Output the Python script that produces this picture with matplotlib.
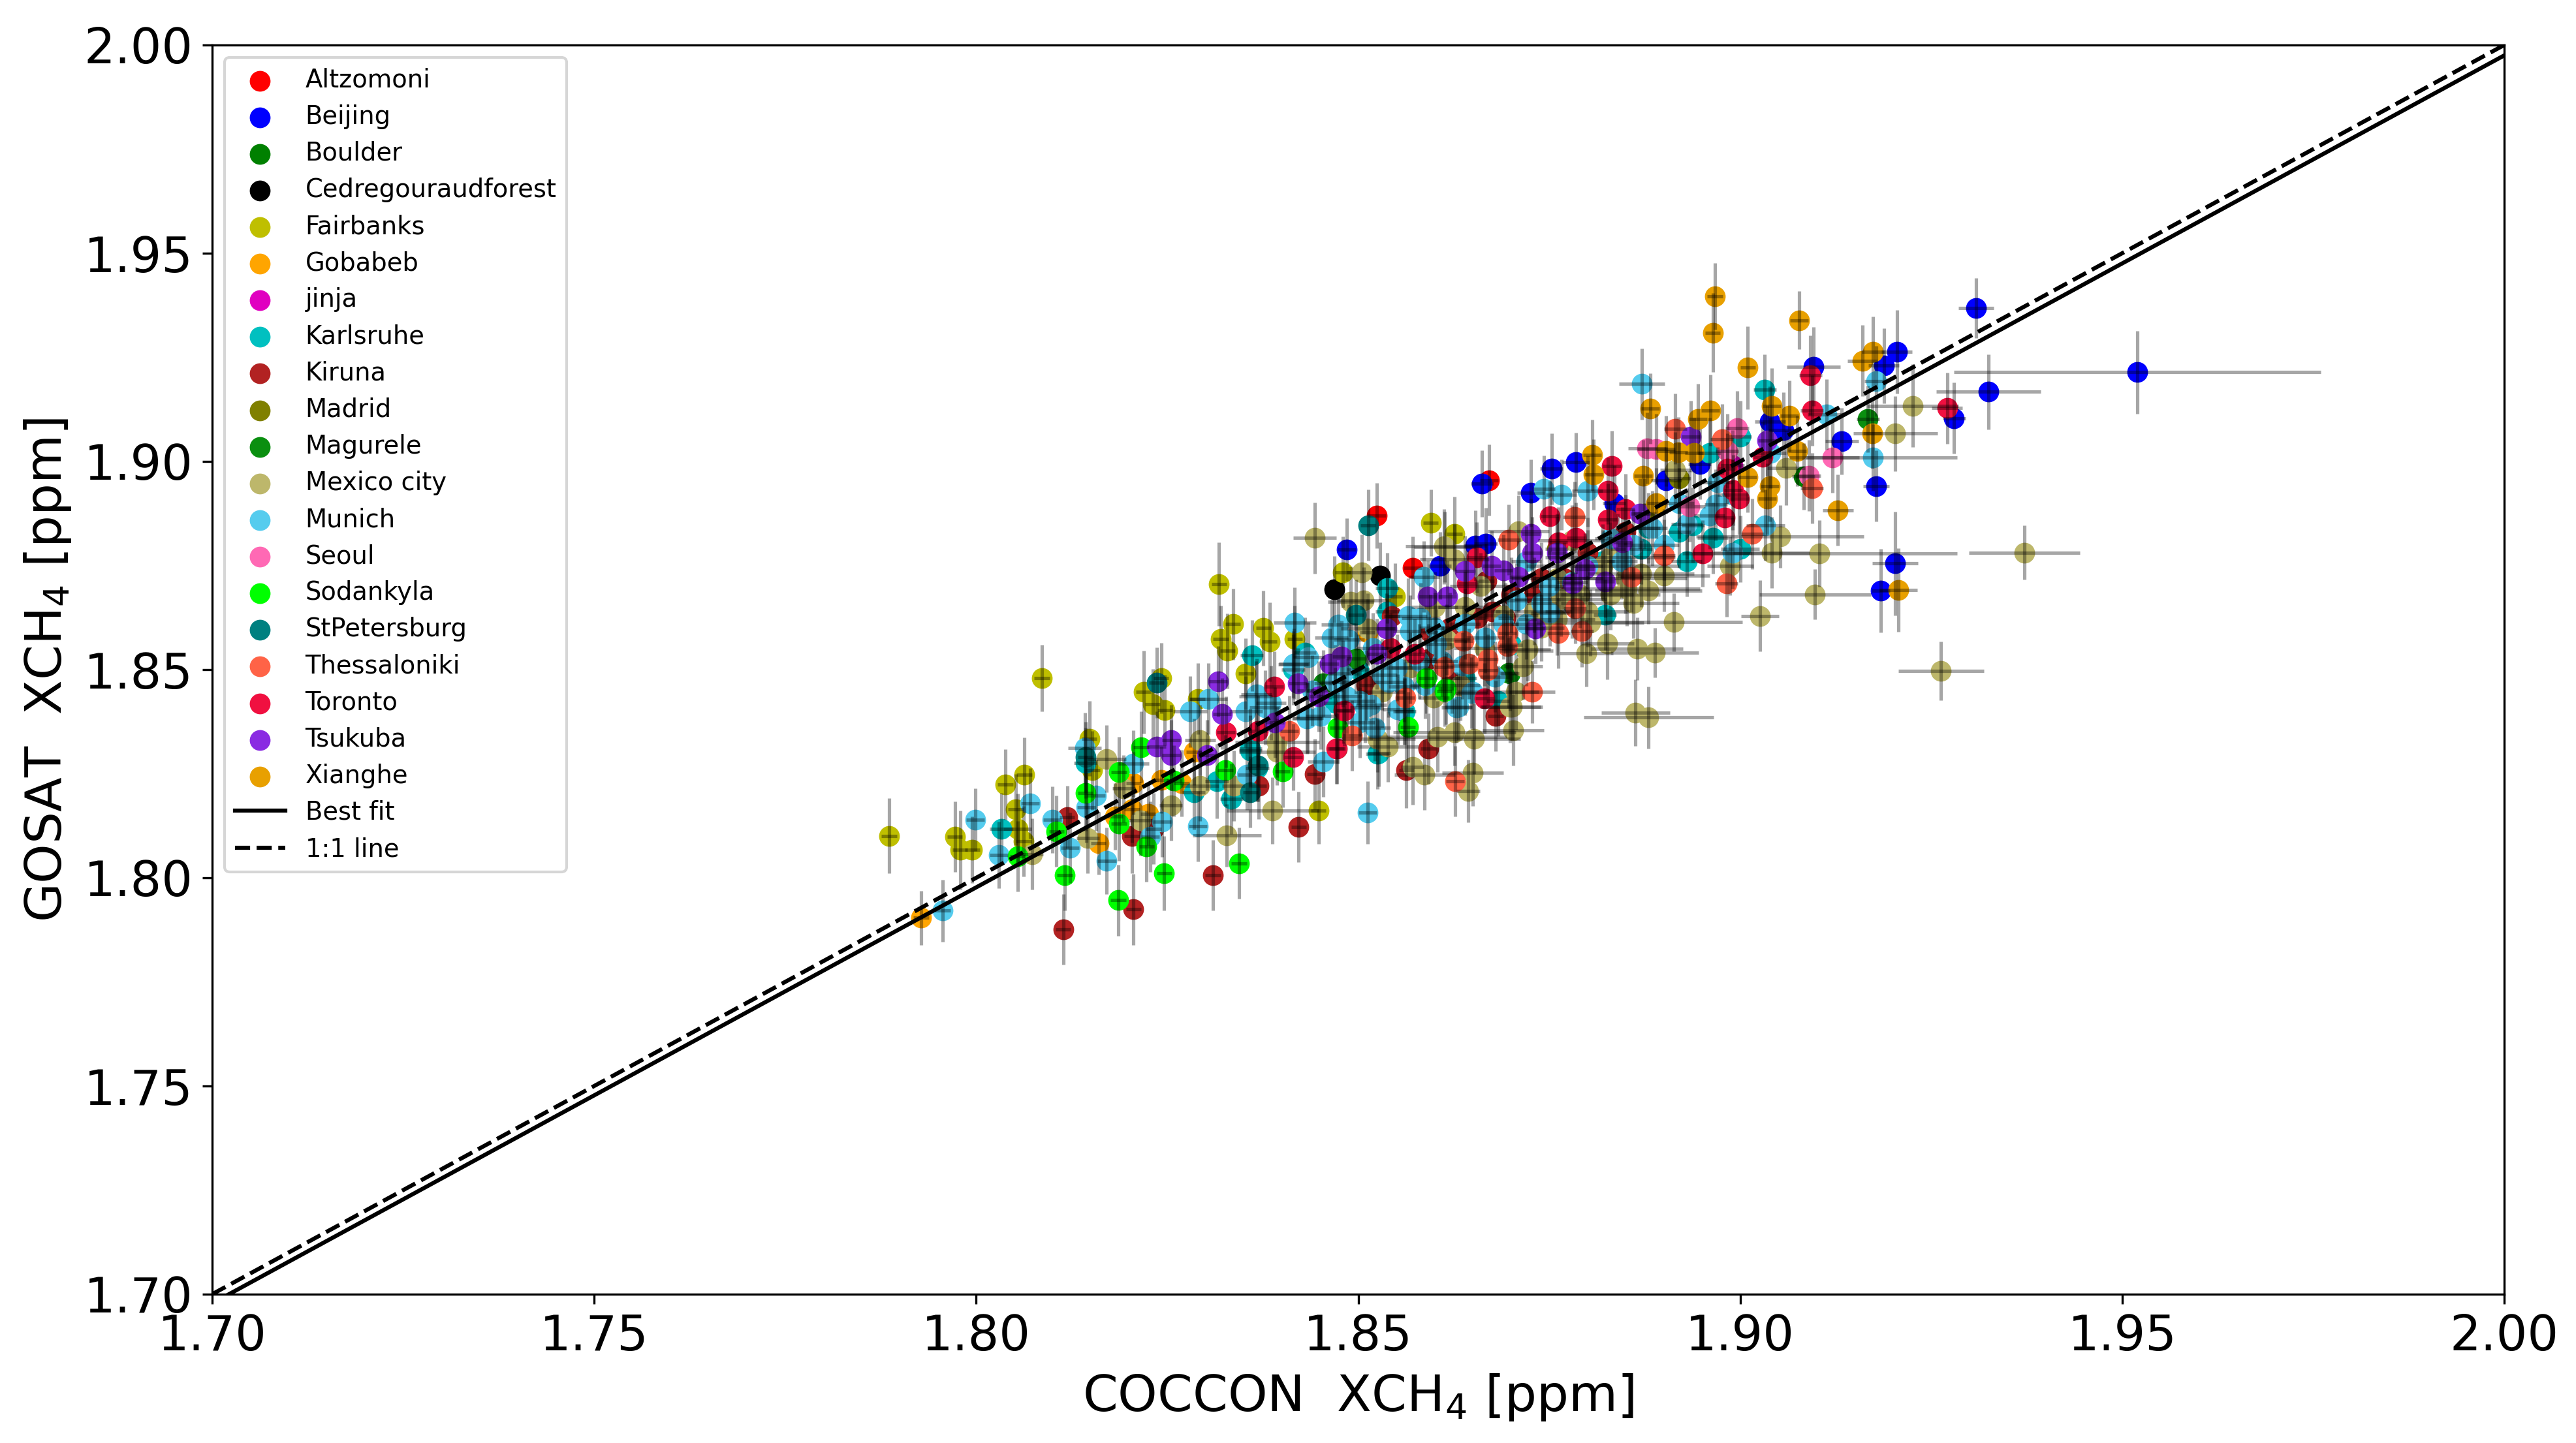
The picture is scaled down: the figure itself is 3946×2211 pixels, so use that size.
#  COCCON vs GOSAT XCH4 scatter, one list per site
#   rows are (x, y, xerr, yerr), all in ppm
import matplotlib
matplotlib.use('Agg')
import matplotlib.pyplot as plt

altzomoni = [(1.8524, 1.8870, .0012, .0078), (1.8671, 1.8955, .0012, .0085), (1.8571, 1.8744, .0012, .0075)]

beijing = [(1.9309, 1.9369, .0023, .0072), (1.9520, 1.9214, .0240, .0100), (1.9325, 1.9167, .0068, .0090),
           (1.9205, 1.9263, .0020, .0100), (1.9188, 1.9230, .0020, .0090), (1.9096, 1.9228, .0035, .0095),
           (1.9280, 1.9104, .0015, .0085), (1.9039, 1.9095, .0020, .0085), (1.9057, 1.9076, .0020, .0090),
           (1.9133, 1.9048, .0022, .0080), (1.9178, 1.8941, .0017, .0085), (1.9203, 1.8755, .0030, .0125),
           (1.9184, 1.8690, .0012, .0100), (1.8785, 1.8999, .0018, .0070), (1.8753, 1.8982, .0015, .0085),
           (1.8662, 1.8947, .0015, .0080), (1.8726, 1.8924, .0018, .0080), (1.8903, 1.8955, .0020, .0080),
           (1.8947, 1.8994, .0015, .0085), (1.8835, 1.8900, .0015, .0090), (1.8653, 1.8798, .0015, .0085),
           (1.8667, 1.8803, .0015, .0085), (1.8607, 1.8750, .0015, .0080), (1.8485, 1.8788, .0012, .0075),
           (1.8560, 1.8400, .0012, .0080)]

boulder = [(1.9083, 1.8964, .0015, .0080)]

cedre = [(1.8469, 1.8693, .0012, .0080), (1.8529, 1.8725, .0012, .0080)]

fairbanks = [(1.7886, 1.8101, .0010, .0090), (1.7972, 1.8099, .0010, .0085), (1.7979, 1.8067, .0010, .0095),
             (1.7995, 1.8067, .0010, .0080), (1.8038, 1.8224, .0010, .0085), (1.8063, 1.8247, .0010, .0090),
             (1.8052, 1.8164, .0010, .0085), (1.8054, 1.8117, .0018, .0085), (1.8062, 1.8088, .0010, .0085),
             (1.8148, 1.8334, .0010, .0090), (1.8152, 1.8258, .0010, .0095), (1.8448, 1.8161, .0010, .0080),
             (1.8086, 1.8480, .0010, .0080), (1.8318, 1.8705, .0010, .0100), (1.8336, 1.8609, .0010, .0085),
             (1.8320, 1.8574, .0010, .0080), (1.8329, 1.8545, .0010, .0090), (1.8376, 1.8600, .0010, .0090),
             (1.8384, 1.8567, .0010, .0095), (1.8417, 1.8573, .0010, .0080), (1.8353, 1.8490, .0010, .0085),
             (1.8595, 1.8852, .0010, .0080), (1.8626, 1.8826, .0010, .0090), (1.8480, 1.8734, .0010, .0085),
             (1.8548, 1.8676, .0010, .0080), (1.8219, 1.8446, .0010, .0100), (1.8242, 1.8480, .0010, .0085),
             (1.8231, 1.8417, .0010, .0085), (1.8247, 1.8403, .0010, .0085), (1.8290, 1.8430, .0010, .0085)]

gobabeb = [(1.7928, 1.7904, .0010, .0065), (1.8160, 1.8083, .0010, .0075), (1.8225, 1.8154, .0010, .0075),
           (1.8204, 1.8164, .0010, .0080), (1.8182, 1.8148, .0010, .0080), (1.8206, 1.8227, .0010, .0075),
           (1.8242, 1.8235, .0010, .0080), (1.8269, 1.8227, .0010, .0080), (1.8285, 1.8302, .0010, .0080),
           (1.8512, 1.8590, .0010, .0080)]

jinja = [(1.8990, 1.8990, .0015, .0085)]

karlsruhe = [(1.8033, 1.8118, .0015, .0085), (1.8143, 1.8276, .0015, .0085), (1.8285, 1.8206, .0015, .0090),
             (1.8334, 1.8190, .0015, .0085), (1.8368, 1.8263, .0015, .0080), (1.8359, 1.8305, .0015, .0085),
             (1.8525, 1.8298, .0015, .0085), (1.8315, 1.8232, .0015, .0090), (1.8361, 1.8534, .0015, .0085),
             (1.8538, 1.8696, .0015, .0085), (1.8538, 1.8640, .0015, .0090), (1.8561, 1.8399, .0015, .0080),
             (1.8683, 1.8425, .0015, .0085), (1.8527, 1.8300, .0015, .0080), (1.8359, 1.8311, .0015, .0095),
             (1.9032, 1.9172, .0015, .0085), (1.8823, 1.8632, .0015, .0085), (1.8964, 1.8816, .0020, .0085),
             (1.8938, 1.8847, .0015, .0090), (1.8920, 1.8830, .0015, .0085), (1.9000, 1.8790, .0025, .0080),
             (1.8960, 1.9020, .0015, .0085), (1.9000, 1.9060, .0015, .0085), (1.8430, 1.8540, .0015, .0085),
             (1.8415, 1.8500, .0015, .0085), (1.8880, 1.8840, .0015, .0085), (1.8500, 1.8500, .0015, .0085),
             (1.8470, 1.8420, .0015, .0085), (1.8640, 1.8480, .0015, .0090), (1.8700, 1.8560, .0015, .0085),
             (1.8780, 1.8660, .0015, .0085), (1.8820, 1.8760, .0015, .0090), (1.8870, 1.8790, .0015, .0085),
             (1.8930, 1.8760, .0020, .0085)]

kiruna = [(1.8114, 1.7876, .0010, .0085), (1.8119, 1.8146, .0010, .0075), (1.8206, 1.7924, .0010, .0085),
          (1.8310, 1.8006, .0010, .0085), (1.8422, 1.8122, .0010, .0085), (1.8204, 1.8101, .0010, .0090),
          (1.8232, 1.8118, .0010, .0085), (1.8370, 1.8221, .0010, .0080), (1.8443, 1.8249, .0010, .0085),
          (1.8472, 1.8310, .0010, .0085), (1.8592, 1.8310, .0010, .0085), (1.8563, 1.8258, .0010, .0090),
          (1.8511, 1.8462, .0010, .0085), (1.8680, 1.8389, .0010, .0085), (1.8481, 1.8403, .0010, .0080),
          (1.8594, 1.8590, .0010, .0090), (1.8592, 1.8525, .0010, .0085), (1.8544, 1.8629, .0010, .0085),
          (1.8668, 1.8713, .0010, .0090), (1.8623, 1.8480, .0010, .0085), (1.8693, 1.8624, .0010, .0085),
          (1.8656, 1.8624, .0010, .0090), (1.8676, 1.8640, .0010, .0085), (1.8730, 1.8680, .0010, .0090),
          (1.8770, 1.8720, .0010, .0085), (1.8740, 1.8720, .0010, .0085), (1.8700, 1.8680, .0010, .0090),
          (1.8800, 1.8780, .0010, .0085), (1.8840, 1.8790, .0010, .0085), (1.8850, 1.8830, .0010, .0090),
          (1.8620, 1.8600, .0010, .0085)]

madrid = [(1.8875, 1.8875, .0015, .0085), (1.8920, 1.8960, .0015, .0085), (1.8760, 1.8790, .0015, .0085)]

magurele = [(1.9167, 1.9102, .0015, .0080), (1.8497, 1.8527, .0012, .0085), (1.8699, 1.8491, .0012, .0090),
            (1.8697, 1.8492, .0012, .0085), (1.8454, 1.8467, .0012, .0080)]

mexico = [(1.9226, 1.9134, .0060, .0100), (1.9203, 1.9067, .0055, .0090), (1.9372, 1.8781, .0073, .0065),
          (1.9263, 1.8497, .0056, .0070), (1.9104, 1.8779, .0180, .0080), (1.9098, 1.8681, .0073, .0060),
          (1.9026, 1.8629, .0025, .0085), (1.8913, 1.8614, .0090, .0070), (1.9052, 1.8820, .0110, .0075),
          (1.9041, 1.8781, .0050, .0085), (1.8987, 1.8749, .0030, .0070), (1.8865, 1.8550, .0060, .0075),
          (1.8888, 1.8541, .0058, .0060), (1.8826, 1.8562, .0035, .0085), (1.8799, 1.8539, .0035, .0080),
          (1.8722, 1.8548, .0030, .0075), (1.8716, 1.8508, .0025, .0080), (1.8863, 1.8396, .0045, .0080),
          (1.8880, 1.8385, .0085, .0075), (1.8701, 1.8410, .0040, .0080), (1.9060, 1.8985, .0025, .0090),
          (1.8915, 1.8980, .0020, .0090), (1.8852, 1.8695, .0095, .0090), (1.8820, 1.8750, .0100, .0085),
          (1.8765, 1.8670, .0060, .0090), (1.8804, 1.8613, .0070, .0080), (1.8613, 1.8795, .0040, .0085),
          (1.8171, 1.8286, .0025, .0080), (1.8146, 1.8096, .0015, .0085), (1.8073, 1.8057, .0015, .0085),
          (1.8255, 1.8174, .0015, .0085), (1.8293, 1.8221, .0025, .0085), (1.8328, 1.8102, .0045, .0075),
          (1.8388, 1.8161, .0060, .0080), (1.8337, 1.8221, .0015, .0085), (1.8394, 1.8326, .0055, .0085),
          (1.8394, 1.8302, .0050, .0080), (1.8193, 1.8214, .0015, .0080), (1.8571, 1.8266, .0015, .0090),
          (1.8587, 1.8248, .0040, .0085), (1.8650, 1.8253, .0040, .0080), (1.8644, 1.8208, .0015, .0075),
          (1.8604, 1.8339, .0090, .0085), (1.8626, 1.8349, .0080, .0080), (1.8652, 1.8334, .0060, .0085),
          (1.8539, 1.8315, .0040, .0085), (1.8525, 1.8334, .0050, .0080), (1.8293, 1.8331, .0020, .0085),
          (1.8215, 1.8138, .0015, .0085), (1.8443, 1.8816, .0028, .0085), (1.8505, 1.8734, .0020, .0090),
          (1.8490, 1.8663, .0030, .0085), (1.8507, 1.8666, .0035, .0080), (1.8512, 1.8598, .0035, .0085),
          (1.8612, 1.8796, .0050, .0090), (1.8626, 1.8765, .0045, .0085), (1.8710, 1.8833, .0040, .0085),
          (1.8616, 1.8572, .0030, .0085), (1.8665, 1.8551, .0040, .0090), (1.8720, 1.8546, .0035, .0085),
          (1.8706, 1.8446, .0030, .0090), (1.8699, 1.8410, .0040, .0085), (1.8703, 1.8355, .0040, .0085),
          (1.8634, 1.8462, .0025, .0085), (1.8599, 1.8433, .0020, .0080), (1.8531, 1.8446, .0030, .0085),
          (1.8568, 1.8504, .0025, .0085), (1.8780, 1.8810, .0045, .0085), (1.8830, 1.8770, .0085, .0085),
          (1.8870, 1.8730, .0070, .0080), (1.8900, 1.8725, .0060, .0085), (1.8740, 1.8600, .0030, .0080),
          (1.8760, 1.8720, .0060, .0085), (1.8790, 1.8680, .0070, .0080), (1.8830, 1.8680, .0065, .0085),
          (1.8850, 1.8720, .0080, .0085), (1.8880, 1.8690, .0070, .0080), (1.8860, 1.8660, .0060, .0085),
          (1.8800, 1.8640, .0055, .0085), (1.8730, 1.8640, .0050, .0080), (1.8690, 1.8630, .0045, .0085),
          (1.8640, 1.8650, .0035, .0085), (1.8600, 1.8650, .0030, .0085), (1.8660, 1.8700, .0040, .0080),
          (1.8760, 1.8620, .0050, .0085)]

munich = [(1.7956, 1.7921, .0010, .0075), (1.7999, 1.8139, .0012, .0075), (1.8071, 1.8179, .0012, .0085),
          (1.8030, 1.8055, .0012, .0080), (1.8100, 1.8140, .0012, .0080), (1.8157, 1.8198, .0012, .0085),
          (1.8144, 1.8169, .0012, .0085), (1.8142, 1.8312, .0022, .0085), (1.8123, 1.8072, .0012, .0085),
          (1.8171, 1.8041, .0012, .0080), (1.8290, 1.8124, .0012, .0085), (1.8512, 1.8157, .0012, .0075),
          (1.8243, 1.8135, .0012, .0085), (1.8228, 1.8099, .0012, .0085), (1.8206, 1.8274, .0020, .0080),
          (1.8354, 1.8248, .0012, .0085), (1.8454, 1.8279, .0020, .0085), (1.8280, 1.8399, .0022, .0085),
          (1.8304, 1.8430, .0025, .0085), (1.8367, 1.8441, .0020, .0085), (1.8378, 1.8409, .0020, .0090),
          (1.8433, 1.8383, .0020, .0085), (1.8509, 1.8409, .0020, .0085), (1.8522, 1.8360, .0020, .0080),
          (1.8552, 1.8404, .0020, .0085), (1.8629, 1.8409, .0020, .0085), (1.8650, 1.8446, .0020, .0090),
          (1.8416, 1.8514, .0020, .0085), (1.8366, 1.8436, .0022, .0085), (1.8353, 1.8399, .0022, .0085),
          (1.8386, 1.8420, .0020, .0090), (1.8474, 1.8608, .0022, .0085), (1.8465, 1.8577, .0022, .0090),
          (1.8488, 1.8572, .0020, .0085), (1.8415, 1.8512, .0020, .0080), (1.8435, 1.8530, .0020, .0085),
          (1.8519, 1.8551, .0020, .0085), (1.8551, 1.8504, .0020, .0080), (1.8531, 1.8488, .0020, .0085),
          (1.8485, 1.8436, .0020, .0090), (1.8502, 1.8425, .0020, .0085), (1.8517, 1.8415, .0020, .0085),
          (1.8434, 1.8384, .0020, .0085), (1.8451, 1.8389, .0020, .0080), (1.8502, 1.8373, .0020, .0085),
          (1.8565, 1.8629, .0025, .0090), (1.8582, 1.8624, .0025, .0085), (1.8568, 1.8593, .0022, .0085),
          (1.8631, 1.8410, .0018, .0080), (1.8648, 1.8444, .0020, .0085), (1.8679, 1.8483, .0020, .0085),
          (1.8588, 1.8462, .0020, .0080), (1.8666, 1.8577, .0025, .0085), (1.8602, 1.8561, .0020, .0085),
          (1.8707, 1.8666, .0020, .0090), (1.8636, 1.8509, .0020, .0080), (1.8586, 1.8723, .0020, .0085),
          (1.8417, 1.8613, .0028, .0085), (1.8871, 1.9186, .0030, .0085), (1.9178, 1.9193, .0015, .0085),
          (1.9174, 1.9010, .0110, .0080), (1.8968, 1.8896, .0015, .0085), (1.9033, 1.8847, .0025, .0085),
          (1.8743, 1.8934, .0015, .0080), (1.8766, 1.8920, .0020, .0085), (1.8800, 1.8929, .0020, .0085),
          (1.9113, 1.9113, .0025, .0085), (1.8751, 1.8637, .0025, .0080), (1.8990, 1.8780, .0025, .0085),
          (1.8720, 1.8760, .0020, .0085), (1.8780, 1.8710, .0020, .0085), (1.8830, 1.8815, .0020, .0085),
          (1.8885, 1.8840, .0020, .0090), (1.8920, 1.8900, .0020, .0085), (1.8970, 1.8950, .0020, .0085),
          (1.9040, 1.9020, .0020, .0085), (1.8440, 1.8450, .0020, .0085), (1.8470, 1.8470, .0020, .0090),
          (1.8540, 1.8470, .0020, .0085), (1.8560, 1.8460, .0020, .0085), (1.8480, 1.8490, .0020, .0080),
          (1.8600, 1.8600, .0020, .0085), (1.8640, 1.8610, .0020, .0085), (1.8580, 1.8520, .0020, .0090),
          (1.8610, 1.8520, .0020, .0085), (1.8690, 1.8610, .0020, .0085), (1.8720, 1.8610, .0020, .0085),
          (1.8740, 1.8660, .0020, .0080), (1.8750, 1.8700, .0020, .0085), (1.8800, 1.8750, .0020, .0085),
          (1.8845, 1.8760, .0020, .0090), (1.8860, 1.8800, .0020, .0085), (1.8900, 1.8800, .0020, .0085),
          (1.8930, 1.8850, .0020, .0085), (1.8960, 1.8870, .0020, .0080), (1.8990, 1.8920, .0020, .0085)]

seoul = [(1.8878, 1.9032, .0025, .0085), (1.8890, 1.9030, .0025, .0085), (1.8996, 1.9080, .0015, .0090),
         (1.9121, 1.9010, .0035, .0085), (1.8983, 1.9025, .0015, .0090), (1.9090, 1.8966, .0015, .0085),
         (1.8934, 1.8892, .0020, .0085)]

sodankyla = [(1.8054, 1.8052, .0010, .0085), (1.8105, 1.8112, .0010, .0085), (1.8143, 1.8203, .0010, .0090),
             (1.8187, 1.8254, .0010, .0085), (1.8216, 1.8314, .0010, .0085), (1.8259, 1.8233, .0010, .0085),
             (1.8187, 1.8130, .0010, .0090), (1.8223, 1.8076, .0010, .0085), (1.8116, 1.8007, .0010, .0085),
             (1.8246, 1.8011, .0010, .0090), (1.8186, 1.7946, .0010, .0085), (1.8344, 1.8035, .0010, .0085),
             (1.8326, 1.8258, .0010, .0085), (1.8401, 1.8255, .0010, .0085), (1.8565, 1.8362, .0010, .0085),
             (1.8615, 1.8454, .0010, .0085), (1.8473, 1.8360, .0010, .0085), (1.8589, 1.8480, .0010, .0085),
             (1.8613, 1.8448, .0010, .0085)]

stpetersburg = [(1.8236, 1.8469, .0010, .0085), (1.8513, 1.8847, .0010, .0085), (1.8497, 1.8632, .0010, .0085),
                (1.8359, 1.8206, .0010, .0085), (1.8369, 1.8269, .0010, .0085), (1.8143, 1.8290, .0010, .0085)]

thessaloniki = [(1.8915, 1.9078, .0015, .0085), (1.8976, 1.9053, .0015, .0085), (1.9094, 1.8936, .0015, .0085),
                (1.8982, 1.8707, .0015, .0080), (1.9016, 1.8826, .0015, .0085), (1.8900, 1.8775, .0015, .0085),
                (1.8762, 1.8588, .0015, .0085), (1.8793, 1.8592, .0015, .0085), (1.8783, 1.8866, .0015, .0085),
                (1.8728, 1.8447, .0030, .0075), (1.8697, 1.8812, .0015, .0085), (1.8784, 1.8648, .0015, .0085),
                (1.8858, 1.8723, .0015, .0085), (1.8638, 1.8569, .0012, .0085), (1.8645, 1.8514, .0012, .0085),
                (1.8670, 1.8525, .0012, .0085), (1.8670, 1.8499, .0012, .0085), (1.8695, 1.8587, .0012, .0085),
                (1.8695, 1.8556, .0012, .0085), (1.8562, 1.8433, .0012, .0085), (1.8492, 1.8342, .0012, .0085),
                (1.8410, 1.8352, .0012, .0085), (1.8612, 1.8506, .0012, .0085), (1.8627, 1.8232, .0012, .0085)]

toronto = [(1.9271, 1.9128, .0020, .0085), (1.9092, 1.9207, .0015, .0095), (1.9094, 1.9122, .0015, .0085),
           (1.8832, 1.8989, .0012, .0085), (1.8827, 1.8930, .0012, .0080), (1.8751, 1.8868, .0012, .0085),
           (1.8827, 1.8861, .0012, .0085), (1.8980, 1.8865, .0012, .0080), (1.8991, 1.8931, .0012, .0085),
           (1.8999, 1.8910, .0012, .0085), (1.8951, 1.8779, .0012, .0080), (1.8655, 1.8770, .0012, .0085),
           (1.8850, 1.8885, .0012, .0085), (1.8785, 1.8816, .0012, .0085), (1.8762, 1.8806, .0012, .0085),
           (1.8983, 1.8983, .0012, .0085), (1.9029, 1.9011, .0012, .0085), (1.8390, 1.8459, .0012, .0085),
           (1.8642, 1.8707, .0012, .0080), (1.8482, 1.8402, .0012, .0085), (1.8665, 1.8431, .0012, .0085),
           (1.8415, 1.8290, .0012, .0080), (1.8327, 1.8350, .0012, .0085), (1.8471, 1.8311, .0012, .0085),
           (1.8369, 1.8352, .0012, .0085), (1.8574, 1.8538, .0012, .0085), (1.8542, 1.8551, .0012, .0085)]

tsukuba = [(1.8935, 1.9060, .0012, .0085), (1.9035, 1.9050, .0012, .0085), (1.8869, 1.8875, .0012, .0085),
           (1.8726, 1.8826, .0012, .0085), (1.8728, 1.8781, .0012, .0085), (1.8760, 1.8781, .0012, .0085),
           (1.8640, 1.8737, .0012, .0085), (1.8675, 1.8749, .0012, .0085), (1.8690, 1.8739, .0012, .0085),
           (1.8617, 1.8676, .0012, .0085), (1.8710, 1.8723, .0012, .0085), (1.8797, 1.8742, .0012, .0085),
           (1.8781, 1.8707, .0012, .0085), (1.8823, 1.8711, .0012, .0085), (1.8732, 1.8599, .0012, .0085),
           (1.8846, 1.8805, .0012, .0085), (1.8317, 1.8472, .0012, .0085), (1.8322, 1.8394, .0012, .0085),
           (1.8236, 1.8315, .0012, .0085), (1.8255, 1.8331, .0012, .0085), (1.8255, 1.8295, .0012, .0085),
           (1.8302, 1.8295, .0012, .0085), (1.8421, 1.8467, .0012, .0085), (1.8478, 1.8532, .0012, .0085),
           (1.8463, 1.8514, .0012, .0085), (1.8537, 1.8598, .0012, .0085), (1.8591, 1.8676, .0012, .0085),
           (1.8524, 1.8538, .0012, .0085), (1.8448, 1.8436, .0012, .0085), (1.8391, 1.8373, .0012, .0085)]

xianghe = [(1.8967, 1.9397, .0010, .0080), (1.8964, 1.9309, .0010, .0095), (1.9077, 1.9339, .0012, .0070),
           (1.9010, 1.9225, .0010, .0100), (1.9160, 1.9242, .0020, .0085), (1.9174, 1.9263, .0015, .0085),
           (1.8882, 1.9127, .0012, .0085), (1.8961, 1.9123, .0012, .0085), (1.8945, 1.9102, .0012, .0085),
           (1.9041, 1.9134, .0012, .0090), (1.9064, 1.9109, .0012, .0085), (1.8903, 1.9025, .0012, .0085),
           (1.8919, 1.9022, .0012, .0085), (1.8940, 1.9020, .0012, .0085), (1.8806, 1.9015, .0012, .0085),
           (1.8808, 1.8969, .0012, .0085), (1.8873, 1.8966, .0012, .0085), (1.9010, 1.8962, .0012, .0085),
           (1.9039, 1.8941, .0012, .0085), (1.9035, 1.8910, .0012, .0085), (1.8890, 1.8900, .0012, .0085),
           (1.9128, 1.8883, .0020, .0085), (1.9173, 1.9067, .0012, .0085), (1.9207, 1.8691, .0025, .0100),
           (1.9075, 1.9025, .0012, .0085)]

# site names and colours, same order as the legend
site_names = ['Altzomoni', 'Beijing', 'Boulder', 'Cedregouraudforest', 'Fairbanks', 'Gobabeb', 'jinja',
              'Karlsruhe', 'Kiruna', 'Madrid', 'Magurele', 'Mexico city', 'Munich', 'Seoul', 'Sodankyla',
              'StPetersburg', 'Thessaloniki', 'Toronto', 'Tsukuba', 'Xianghe']
site_rows = [altzomoni, beijing, boulder, cedre, fairbanks, gobabeb, jinja, karlsruhe, kiruna, madrid,
             magurele, mexico, munich, seoul, sodankyla, stpetersburg, thessaloniki, toronto, tsukuba, xianghe]
site_colors = ['r', 'b', 'g', 'k', '#bfbf00', 'orange', '#e000c0', '#00c0c0', 'firebrick', 'olive',
               '#0a8f10', 'darkkhaki', '#55ccee', 'hotpink', 'lime', 'teal', 'tomato', '#f01040',
               'blueviolet', '#e8a000']

fit_x = [1.70, 2.00]
fit_y = [1.6978, 1.9975]
one_to_one = [1.70, 2.00]

ticks = [1.70, 1.75, 1.80, 1.85, 1.90, 1.95, 2.00]


def main():
    fig, ax = plt.subplots(figsize=(3946 / 300, 2211 / 300), dpi=300)
    fig.subplots_adjust(left=325 / 3946, right=3836 / 3946, top=1 - 69 / 2211, bottom=1 - 1983 / 2211)

    for name, rows, color in zip(site_names, site_rows, site_colors):
        x, y, xerr, yerr = zip(*rows)
        ax.scatter(x, y, s=44, color=color, label=name)
        ax.errorbar(x, y, xerr=xerr, yerr=yerr, fmt='none', ecolor='k', elinewidth=1.25, alpha=0.35)

    ax.plot(fit_x, fit_y, 'k-', label='Best fit', zorder=4)
    ax.plot(one_to_one, one_to_one, 'k--', label='1:1 line', zorder=4)

    ax.set_xlim(1.70, 2.00)
    ax.set_ylim(1.70, 2.00)
    ax.set_xticks(ticks)
    ax.set_yticks(ticks)
    ax.tick_params(labelsize=18)
    ax.set_xlabel('COCCON  XCH$_4$ [ppm]', size=18.5)
    ax.set_ylabel('GOSAT  XCH$_4$ [ppm]', size=18.5)
    ax.legend(loc='upper left', fontsize=9.25, labelspacing=0.47)

    fig.savefig('out.png', dpi=300)


main()
